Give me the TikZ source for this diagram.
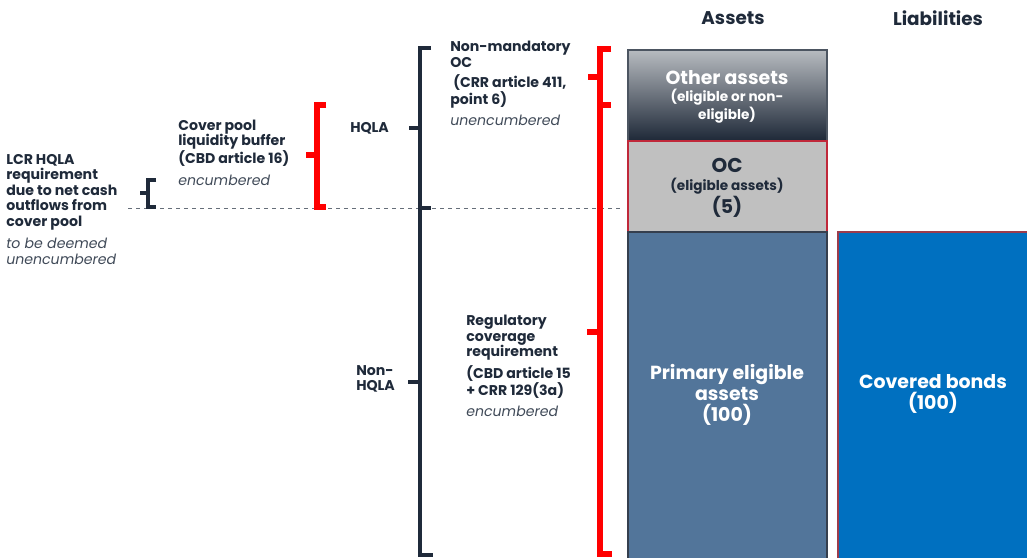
\documentclass[tikz,border=0pt]{standalone}
\usepackage{fontspec}
\setmainfont{Poppins}
\definecolor{navy}{HTML}{1F2A3A}
\definecolor{note}{HTML}{404A58}
\definecolor{topgray}{HTML}{B7BBC0}
\definecolor{ocgray}{HTML}{C0C0C0}
\definecolor{ocedge}{HTML}{C0283A}
\definecolor{primary}{HTML}{52759A}
\definecolor{bonds}{HTML}{0070C0}
\definecolor{bondedge}{HTML}{9C3C4C}
\newcommand\lbl{\fontsize{10.6}{11.6}\selectfont\bfseries}
\newcommand\noteit{\fontsize{10.6}{11.8}\selectfont\itshape}
\newcommand\boxbig{\fontsize{14.2}{16}\selectfont\bfseries}
\newcommand\boxsmall{\fontsize{10.2}{11.2}\selectfont\bfseries}

\begin{document}
\begin{tikzpicture}[x=0.75pt, y=-0.75pt,
  every node/.style={font=\lbl, text=navy},
  txt/.style={anchor=west, align=left, inner sep=0pt},
  note/.style={txt, font=\noteit, text=note},
  boxtxt/.style={align=center, inner sep=0pt, font=\boxbig},
  darkbrace/.style={draw=navy, line width=3.6pt, line join=miter},
  redbrace/.style={draw=red, line width=3.8pt, line join=miter}]
\useasboundingbox (0,0) rectangle (1027,557);

% Headings
\node[font=\fontsize{13.8}{15}\selectfont\bfseries] (assets) at (733,18) {Assets};
\node[font=\fontsize{13.8}{15}\selectfont\bfseries] (liab) at (938,18) {Liabilities};

% Balance sheet boxes
\shade[top color=topgray, bottom color=navy!95!black] (628,50) rectangle (827,141);
\draw[draw=navy!80, line width=1pt] (628,50) rectangle (827,141);
\draw[fill=ocgray, draw=ocedge, line width=1pt] (628,141) rectangle (827,232);
\draw[fill=primary, draw=navy!90, line width=1pt] (628,232) rectangle (827,560);
\draw[fill=bonds, draw=bondedge, line width=0.8pt] (838,232) rectangle (1030,560);

\node[boxtxt, text=white] (other) at (727,78) {Other assets};
\node[boxtxt, text=white, font=\boxsmall] (othernote) at (727,106) {(eligible or non-\\eligible)};
\node[boxtxt, font=\fontsize{15}{16}\selectfont\bfseries] (oc) at (727,165) {OC};
\node[boxtxt, font=\boxsmall] (ocnote) at (727,186) {(eligible assets)};
\node[boxtxt] (five) at (727,207) {(5)};
\node[boxtxt, text=white] (prim) at (727,395) {Primary eligible\\assets\\(100)};
\node[boxtxt, text=white] (cb) at (933,394) {Covered bonds\\(100)};

% Separation line
\draw[dashed, draw=note!80, line width=0.6pt] (128,208) -- (620,208);

% Braces
\draw[darkbrace] (156,180) -- (148,180) -- (148,207) -- (156,207);
\draw[darkbrace] (148,193) -- (140,193);
\draw[redbrace] (326,105) -- (317,105) -- (317,207) -- (326,207);
\draw[redbrace] (317,155) -- (306,155);
\draw[darkbrace] (431,48) -- (420,48) -- (420,555) -- (433,555);
\draw[darkbrace] (420,208) -- (431,208);
\draw[darkbrace] (420,128) -- (409,128);
\draw[darkbrace] (420,382) -- (408,382);
\draw[redbrace] (611,49) -- (600,49) -- (600,554) -- (612,554);
\draw[redbrace] (600,105) -- (611,105);
\draw[redbrace] (600,77) -- (588,77);
\draw[redbrace] (600,332) -- (587,332);

% Labels
\node[txt] (lcr) at (6,192) {LCR HQLA\\requirement\\due to net cash\\outflows from\\cover pool};
\node[note] (lcrnote) at (6,251) {to be deemed\\unencumbered};
\node[txt] (buffer) at (178,143) {Cover pool\\liquidity buffer\\(CBD article 16)};
\node[note] (buffernote) at (178,180) {encumbered};
\node[txt] (hqla) at (350,128) {HQLA};
\node[txt] (nonhqla) at (356,379) {Non-\\HQLA};
\node[txt] (nmoc) at (450,54.5) {Non-mandatory\\OC};
\node[txt] (nmocref) at (450,91.5) {\ (CRR article 411,\\point 6)};
\node[note] (nmocnote) at (450,120) {unencumbered};
\node[txt] (reg) at (466,338) {Regulatory\\coverage\\requirement};
\node[txt] (regref) at (466,382) {(CBD article 15\\+ CRR 129(3a)};
\node[note] (regnote) at (466,411) {encumbered};
\end{tikzpicture}
\end{document}
